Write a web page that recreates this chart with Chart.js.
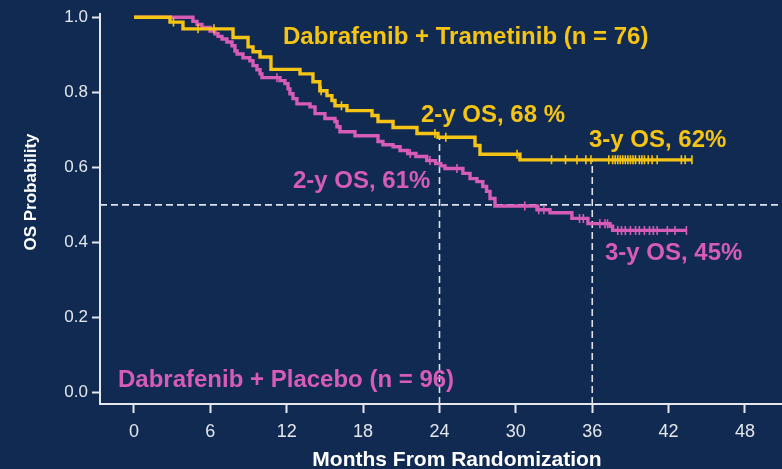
<!DOCTYPE html>
<html>
<head>
<meta charset="utf-8">
<script src="https://cdn.jsdelivr.net/npm/chart.js@4.4.1/dist/chart.umd.min.js"></script>
<style>
  html, body { margin: 0; padding: 0; background: #112a52; }
  #wrap { width: 782px; height: 469px; position: relative; }
</style>
</head>
<body>
<div id="wrap"><canvas id="km"></canvas></div>
<script>
// Axis ticks
const monthTicks = [0, 6, 12, 18, 24, 30, 36, 42, 48];
const probTicks = [0.0, 0.2, 0.4, 0.6, 0.8, 1.0];

// Dabrafenib + Trametinib: event times (months) and survival after each event
const dtEventMonths = [2.83, 3.85, 7.78, 8.96, 9.35, 9.9, 10.76, 13.04, 14.06, 14.6, 15.16, 15.55, 15.79, 16.73, 18.7, 19.17, 20.35, 22.23, 23.88, 26.79, 27.18, 30.32];
const dtSurvival = [0.987, 0.969, 0.946, 0.921, 0.908, 0.894, 0.861, 0.849, 0.828, 0.804, 0.791, 0.778, 0.764, 0.751, 0.738, 0.722, 0.706, 0.690, 0.680, 0.658, 0.635, 0.620];
const dtCensorMonths = [3.1, 5.03, 6.28, 14.7, 16.3, 23.64, 24.5, 30.09, 32.8, 33.9, 34.8, 35.5, 35.9, 37.3, 37.6, 37.8, 38.0, 38.2, 38.4, 38.6, 38.8, 39.0, 39.2, 39.4, 39.7, 39.9, 40.1, 40.4, 40.7, 41.1, 43.0, 43.3, 43.83];
const dtLastMonth = 43.83;

// Dabrafenib + Placebo
const dpEventMonths = [4.63, 4.95, 5.34, 5.97, 6.36, 6.6, 6.91, 7.3, 7.7, 7.93, 8.1, 8.56, 9.1, 9.35, 9.66, 9.9, 10.05, 11.47, 11.86, 12.1, 12.25, 12.49, 12.8, 13.83, 14.22, 15.0, 15.79, 15.95, 16.18, 17.36, 19.17, 19.56, 20.35, 20.9, 21.5, 22.15, 23.0, 23.7, 24.1, 24.43, 25.84, 26.4, 26.94, 27.4, 27.7, 27.97, 28.36, 31.66, 32.68, 34.4, 35.66, 37.4, 37.6];
const dpSurvival = [0.989, 0.981, 0.973, 0.963, 0.956, 0.949, 0.942, 0.934, 0.924, 0.910, 0.902, 0.892, 0.884, 0.871, 0.860, 0.849, 0.839, 0.831, 0.823, 0.809, 0.796, 0.783, 0.769, 0.761, 0.743, 0.730, 0.722, 0.708, 0.695, 0.684, 0.669, 0.660, 0.655, 0.645, 0.637, 0.629, 0.618, 0.610, 0.604, 0.597, 0.584, 0.570, 0.562, 0.549, 0.536, 0.517, 0.497, 0.487, 0.479, 0.464, 0.450, 0.443, 0.432];
const dpCensorMonths = [11.23, 21.7, 23.25, 25.37, 30.7, 31.8, 32.2, 35.0, 35.3, 36.6, 37.0, 37.2, 38.0, 38.3, 38.6, 39.0, 39.4, 39.7, 40.1, 40.5, 40.8, 41.1, 41.9, 42.5, 43.4];
const dpLastMonth = 43.4;

// Landmark OS rates
const landmarkMonths = [24, 36];
const dtLandmarkOS = [0.68, 0.62];
const dpLandmarkOS = [0.61, 0.45];
const medianLine = 0.5;

const YELLOW = '#f6c414';
const PINK = '#d65cb7';
const AXIS = '#e4e7ec';
const DASH = '#dde2ea';

const xMin = -2.671, xMax = 50.907;
const yMin = -0.0305, yMax = 1.008;

function survivalAt(times, surv, t) {
  let s = 1;
  for (let i = 0; i < times.length; i++) if (times[i] <= t) s = surv[i];
  return s;
}
function stepPoints(times, surv, last) {
  const pts = [{ x: 0, y: 1 }];
  times.forEach((t, i) => pts.push({ x: t, y: surv[i] }));
  pts.push({ x: last, y: surv[surv.length - 1] });
  return pts;
}
function censorPoints(times, surv, cens) {
  return cens.map(t => ({ x: t, y: survivalAt(times, surv, t) }));
}

const curveStyle = (color) => ({
  showLine: true, stepped: 'before', borderColor: color, borderWidth: 3.4,
  pointRadius: 0, fill: false
});
const censorStyle = (color) => ({
  showLine: false, pointStyle: 'line', rotation: 90, pointRadius: 4.5,
  pointBorderWidth: 1.6, pointBorderColor: color, borderColor: color, backgroundColor: color
});
const dashStyle = {
  showLine: true, borderColor: DASH, borderWidth: 1.6, borderDash: [7, 4],
  pointRadius: 0, fill: false
};

const datasets = [
  { data: censorPoints(dtEventMonths, dtSurvival, dtCensorMonths), ...censorStyle(YELLOW) },
  { data: stepPoints(dtEventMonths, dtSurvival, dtLastMonth), ...curveStyle(YELLOW) },
  { data: censorPoints(dpEventMonths, dpSurvival, dpCensorMonths), ...censorStyle(PINK) },
  { data: stepPoints(dpEventMonths, dpSurvival, dpLastMonth), ...curveStyle(PINK) },
  { data: [{ x: xMin, y: medianLine }, { x: xMax, y: medianLine }], ...dashStyle },
  { data: [{ x: landmarkMonths[0], y: yMin }, { x: landmarkMonths[0], y: dtLandmarkOS[0] }], ...dashStyle },
  { data: [{ x: landmarkMonths[1], y: yMin }, { x: landmarkMonths[1], y: dtLandmarkOS[1] }], ...dashStyle }
];

// Text placed on the plot: [text, left x, centre y, colour]
const annotations = [
  ['Dabrafenib + Trametinib (n = 76)', 283, 37, YELLOW],
  [`2-y OS, ${Math.round(dtLandmarkOS[0] * 100)} %`, 421, 115, YELLOW],
  [`3-y OS, ${Math.round(dtLandmarkOS[1] * 100)}%`, 589, 140, YELLOW],
  [`2-y OS, ${Math.round(dpLandmarkOS[0] * 100)}%`, 293, 181, PINK],
  [`3-y OS, ${Math.round(dpLandmarkOS[1] * 100)}%`, 605, 253, PINK],
  ['Dabrafenib + Placebo (n = 96)', 118, 380, PINK]
];

const textPlugin = {
  id: 'kmText',
  afterDraw(chart) {
    const ctx = chart.ctx;
    ctx.save();
    ctx.font = 'bold 24px "Liberation Sans", Arial, sans-serif';
    ctx.textAlign = 'left';
    ctx.textBaseline = 'middle';
    annotations.forEach(([t, x, y, c]) => { ctx.fillStyle = c; ctx.fillText(t, x, y); });
    // axis titles
    ctx.fillStyle = '#ffffff';
    ctx.font = 'bold 21px "Liberation Sans", Arial, sans-serif';
    ctx.textAlign = 'center';
    ctx.fillText('Months From Randomization', 457, 460);
    ctx.translate(31, 192);
    ctx.rotate(-Math.PI / 2);
    ctx.font = 'bold 17px "Liberation Sans", Arial, sans-serif';
    ctx.fillText('OS Probability', 0, 0);
    ctx.restore();
  }
};

const bgPlugin = {
  id: 'bg',
  beforeDraw(chart) {
    const ctx = chart.ctx;
    ctx.save();
    ctx.fillStyle = '#112a52';
    ctx.fillRect(0, 0, chart.width, chart.height);
    ctx.restore();
  }
};

new Chart(document.getElementById('km'), {
  type: 'scatter',
  data: { datasets },
  options: {
    responsive: true,
    maintainAspectRatio: false,
    animation: false,
    layout: { autoPadding: false, padding: { top: 13, right: 0, left: 0, bottom: 0 } },
    plugins: { legend: { display: false }, tooltip: { enabled: false } },
    scales: {
      x: {
        type: 'linear', min: xMin, max: xMax,
        afterBuildTicks: s => { s.ticks = monthTicks.map(v => ({ value: v })); },
        afterFit: s => { s.height = 65; },
        border: { display: true, color: AXIS, width: 2 },
        grid: { display: true, drawOnChartArea: false, drawTicks: true, tickLength: 9, tickColor: AXIS, tickWidth: 2 },
        ticks: {
          color: AXIS, padding: 8, maxRotation: 0, autoSkip: false,
          font: { family: '"Liberation Sans", Arial', size: 18 }
        }
      },
      y: {
        type: 'linear', min: yMin, max: yMax,
        afterBuildTicks: s => { s.ticks = probTicks.map(v => ({ value: v })); },
        afterFit: s => { s.width = 100; },
        border: { display: true, color: AXIS, width: 2 },
        grid: { display: true, drawOnChartArea: false, drawTicks: true, tickLength: 8, tickColor: AXIS, tickWidth: 2 },
        ticks: {
          color: AXIS, padding: 4, autoSkip: false,
          callback: v => Number(v).toFixed(1),
          font: { family: '"Liberation Sans", Arial', size: 17 }
        }
      }
    }
  },
  plugins: [bgPlugin, textPlugin]
});
</script>
</body>
</html>
